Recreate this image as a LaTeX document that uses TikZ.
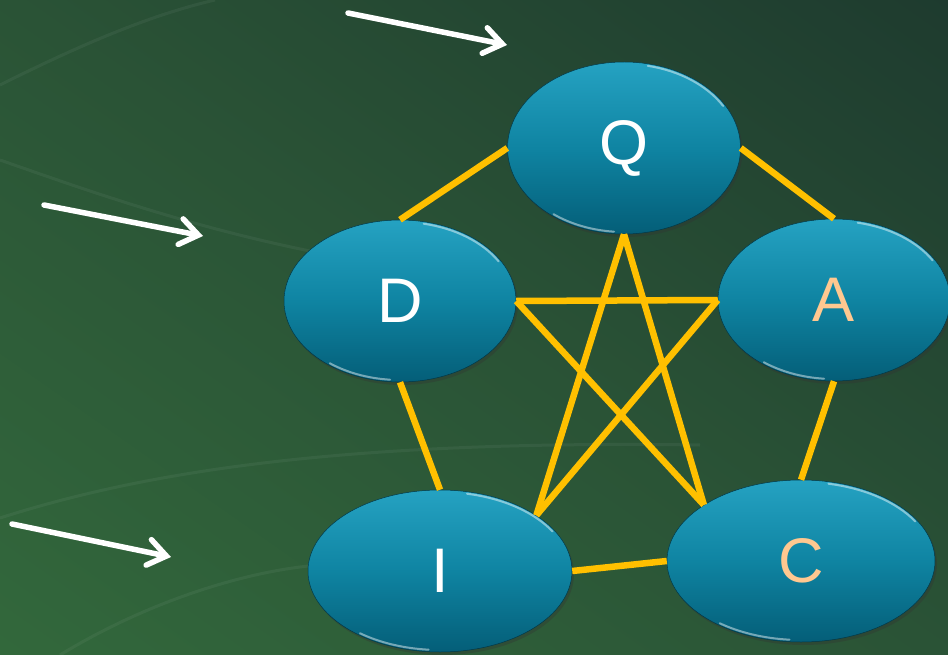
\documentclass[tikz,border=0pt]{standalone}
\usepackage{fontspec}
\setmainfont{Liberation Sans}
\usetikzlibrary{shapes.geometric,arrows.meta,shadows}
\definecolor{bgdark}{HTML}{1D392E}
\definecolor{bgmid}{HTML}{2A5336}
\definecolor{bglight}{HTML}{336A3C}
\definecolor{tealtop}{HTML}{25A2C2}
\definecolor{tealmid}{HTML}{0F84A2}
\definecolor{tealbot}{HTML}{045E78}
\definecolor{gold}{HTML}{FFC000}
\definecolor{peach}{HTML}{FFC890}
\newcommand{\bubblerim}[3]{%
  \draw[rim] ([shift={(78:#2pt and #3pt)}]#1.center) arc[start angle=78,end angle=30,x radius=#2pt,y radius=#3pt];
  \draw[rim] ([shift={(232:#2pt and #3pt)}]#1.center) arc[start angle=232,end angle=265,x radius=#2pt,y radius=#3pt];}
\begin{document}
\begin{tikzpicture}[x=1pt,y=-1pt,
  bubble/.style={ellipse, inner sep=0pt, top color=tealtop, bottom color=tealbot, middle color=tealmid,
    draw=tealbot!60!black, line width=0.5pt,
    drop shadow={opacity=0.35, shadow xshift=2pt, shadow yshift=-3pt, fill=black!80},
    font=\fontsize{63}{75}\selectfont, text=white},
  link/.style={gold, line width=6.5pt},
  pointer/.style={white, line width=5.5pt, line cap=round,
    -{Straight Barb[length=18pt,width=26pt,line cap=round]}},
  streak/.style={white, opacity=0.05, line width=3pt},
  rim/.style={white, opacity=0.45, line width=2pt, line cap=round}]
\useasboundingbox (0,0) rectangle (948,655);
\clip (0,0) rectangle (948,655);
\shade[top color=bgdark, bottom color=bglight, middle color=bgmid, shading angle=-35] (-200,-200) rectangle (1150,855);
% faint streaks
\draw[streak] (0,85) .. controls (80,45) and (150,15) .. (215,0);
\draw[streak] (0,160) .. controls (100,195) and (200,230) .. (330,255);
\draw[streak] (0,518) .. controls (150,470) and (350,440) .. (700,445);
\draw[streak] (60,655) .. controls (150,600) and (250,570) .. (320,565);
% arrows
\coordinate (a1s) at (348,13); \coordinate (a1e) at (507,45);
\coordinate (a2s) at (44,205); \coordinate (a2e) at (203,236);
\coordinate (a3s) at (12,524); \coordinate (a3e) at (171,557);
\draw[pointer] (a1s) -- (a1e);
\draw[pointer] (a2s) -- (a2e);
\draw[pointer] (a3s) -- (a3e);
% nodes
\node[bubble, minimum width=233pt, minimum height=172pt] (Q) at (624,148) {Q};
\node[bubble, minimum width=232pt, minimum height=162pt] (D) at (400,301) {D};
\node[bubble, minimum width=232pt, minimum height=162pt, text=peach] (A) at (834,300) {A};
\node[bubble, minimum width=264pt, minimum height=162pt] (I) at (440,571) {I};
\node[bubble, minimum width=268pt, minimum height=162pt, text=peach] (C) at (801,561) {C};
\bubblerim{Q}{114.5}{84}
\bubblerim{D}{114}{79}
\bubblerim{A}{114}{79}
\bubblerim{I}{130}{79}
\bubblerim{C}{132}{79}
% pentagon links
\draw[link] (Q.west) -- (D.north);
\draw[link] (Q.east) -- (A.north);
\draw[link] (D.south) -- (I.north);
\draw[link] (A.south) -- (C.north);
\draw[link] (I.east) -- (C.west);
% star
\draw[link] (Q.south) -- (I.30);
\draw[link] (Q.south) -- (C.150);
\draw[link] (D.east) -- (A.west);
\draw[link] (D.east) -- (C.150);
\draw[link] (A.west) -- (I.30);
\end{tikzpicture}
\end{document}
